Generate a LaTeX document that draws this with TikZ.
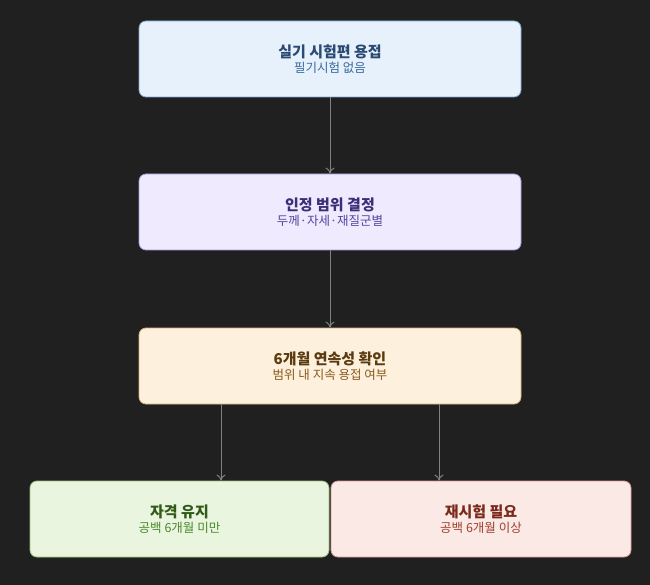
\documentclass[tikz,border=0pt]{standalone}
\usepackage{fontspec}
\setmainfont{Noto Sans CJK KR}
\usetikzlibrary{arrows.meta}
\definecolor{bg}{HTML}{202020}
\definecolor{aD}{HTML}{7FA6CC}\definecolor{aF}{HTML}{E6F1FC}
\definecolor{bD}{HTML}{A79AD6}\definecolor{bF}{HTML}{EFEAFD}
\definecolor{cD}{HTML}{D6B27A}\definecolor{cF}{HTML}{FDF0DC}
\definecolor{dD}{HTML}{9CC47F}\definecolor{dF}{HTML}{EAF5E0}
\definecolor{eD}{HTML}{D69A8E}\definecolor{eF}{HTML}{FBE9E5}
\definecolor{ar}{HTML}{828282}
\begin{document}
\begin{tikzpicture}[x=1pt,y=-1pt,
 box/.style={draw=#1,line width=0.8pt,rounded corners=7pt,minimum height=76pt,inner sep=0pt,align=center},
 arr/.style={draw=ar,line width=1pt,-{To[length=6pt,width=9pt]}}]
\fill[bg] (0,0) rectangle (650,585);
\useasboundingbox (0,0) rectangle (650,585);
\node[box=aD,fill=aF,minimum width=382pt] (a) at (330,59)
 {\textcolor[HTML]{2A4A72}{\bfseries\fontsize{15}{18}\selectfont 실기 시험편 용접}\\[3pt]\textcolor[HTML]{3A6AA0}{\fontsize{12.5}{15}\selectfont 필기시험 없음}};
\node[box=bD,fill=bF,minimum width=382pt] (b) at (330,212)
 {\textcolor[HTML]{3B2F7A}{\bfseries\fontsize{15}{18}\selectfont 인정 범위 결정}\\[3pt]\textcolor[HTML]{5546A0}{\fontsize{12.5}{15}\selectfont 두께·자세·재질군별}};
\node[box=cD,fill=cF,minimum width=382pt] (c) at (330,366)
 {\textcolor[HTML]{5A3A10}{\bfseries\fontsize{15}{18}\selectfont 6개월 연속성 확인}\\[3pt]\textcolor[HTML]{8A5A20}{\fontsize{12.5}{15}\selectfont 범위 내 지속 용접 여부}};
\node[box=dD,fill=dF,minimum width=299pt] (d) at (179.5,519)
 {\textcolor[HTML]{2F5A18}{\bfseries\fontsize{15}{18}\selectfont 자격 유지}\\[3pt]\textcolor[HTML]{4A8A2A}{\fontsize{12.5}{15}\selectfont 공백 6개월 미만}};
\node[box=eD,fill=eF,minimum width=300pt] (e) at (481,519)
 {\textcolor[HTML]{7A2A1A}{\bfseries\fontsize{15}{18}\selectfont 재시험 필요}\\[3pt]\textcolor[HTML]{A04030}{\fontsize{12.5}{15}\selectfont 공백 6개월 이상}};
\draw[arr] (a) -- (b);
\draw[arr] (b) -- (c);
\draw[arr] (c.south -| 221,0) -- (d.north -| 221,0);
\draw[arr] (c.south -| 439,0) -- (e.north -| 439,0);
\end{tikzpicture}
\end{document}
